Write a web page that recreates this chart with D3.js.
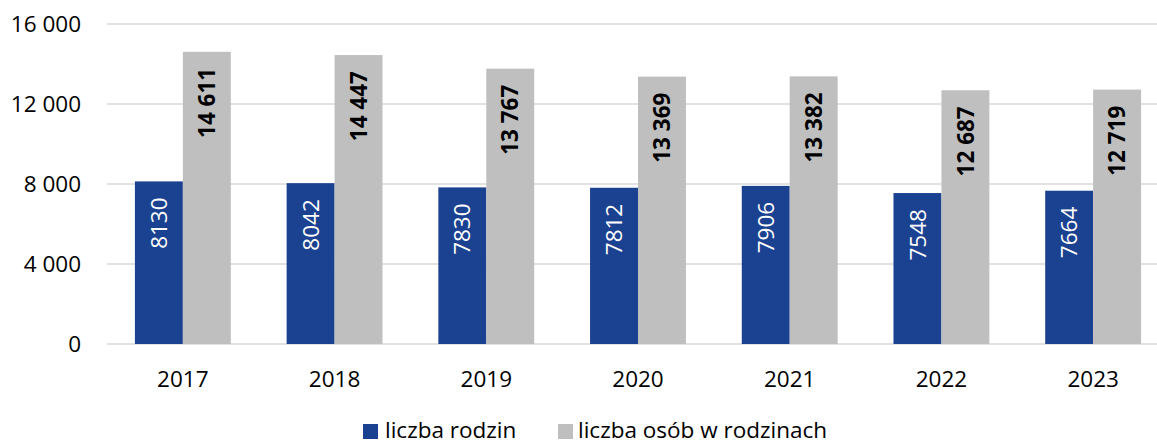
<!DOCTYPE html>
<html lang="pl">
<head>
<meta charset="UTF-8">
<title>Rodziny</title>
<script src="https://cdn.jsdelivr.net/npm/d3@7"></script>
<style>
  html, body { margin: 0; padding: 0; background: #fff; overflow: hidden; }
  svg { display: block; font-family: "Open Sans", sans-serif; }
</style>
</head>
<body>
<div id="chart"></div>
<script>
// dane z wykresu
var years = ['2017', '2018', '2019', '2020', '2021', '2022', '2023'];
var rodziny = [8130, 8042, 7830, 7812, 7906, 7548, 7664];
var osoby = [14611, 14447, 13767, 13369, 13382, 12687, 12719];
var yTicks = [0, 4000, 8000, 12000, 16000];
var seriesNames = ['liczba rodzin', 'liczba osób w rodzinach'];

var width = 1157, height = 444;
var blue = '#1b4191', gray = '#bfbfbf', grid = '#d9d9d9';

var svg = d3.select('#chart').append('svg')
    .attr('width', width).attr('height', height);

// obszar wykresu wychodzi lekko poza prawa krawedz, jak w oryginale
var x = d3.scaleBand().domain(years).range([107, 1169]).padding(0);
var y = d3.scaleLinear().domain([0, 16000]).range([344, 24]);
var barW = x.bandwidth() * 0.316;

var fmt = function (v) {
    return d3.format(',')(v).replace(/,/g, ' ');
};

// siatka
svg.append('g').selectAll('line').data(yTicks).enter().append('line')
    .attr('x1', 107).attr('x2', width)
    .attr('y1', function (d) { return y(d); })
    .attr('y2', function (d) { return y(d); })
    .attr('stroke', grid).attr('stroke-width', 1.5);

// etykiety osi Y
svg.append('g').selectAll('text').data(yTicks).enter().append('text')
    .attr('x', 81).attr('y', function (d) { return y(d); })
    .attr('dy', '0.36em')
    .attr('text-anchor', 'end')
    .attr('font-size', '22.5px').attr('fill', '#000')
    .text(function (d) { return d === 0 ? '0' : fmt(d); });

// slupki
var groups = svg.append('g').selectAll('g').data(years).enter().append('g')
    .attr('transform', function (d) { return 'translate(' + (x(d) + x.bandwidth() / 2) + ',0)'; });

groups.append('rect')
    .attr('x', -barW).attr('width', barW)
    .attr('y', function (d, i) { return y(rodziny[i]); })
    .attr('height', function (d, i) { return y(0) - y(rodziny[i]); })
    .attr('fill', blue);

groups.append('rect')
    .attr('x', 0).attr('width', barW)
    .attr('y', function (d, i) { return y(osoby[i]); })
    .attr('height', function (d, i) { return y(0) - y(osoby[i]); })
    .attr('fill', gray);

// etykiety wartosci (obrocone)
groups.append('text')
    .attr('transform', function (d, i) {
        return 'translate(' + (-barW / 2) + ',' + (y(rodziny[i]) + 16) + ') rotate(-90)';
    })
    .attr('dy', '0.36em')
    .attr('text-anchor', 'end')
    .attr('font-size', '22.5px').attr('fill', '#fff')
    .text(function (d, i) { return rodziny[i]; });

groups.append('text')
    .attr('transform', function (d, i) {
        return 'translate(' + (barW / 2) + ',' + (y(osoby[i]) + 16) + ') rotate(-90)';
    })
    .attr('dy', '0.36em')
    .attr('text-anchor', 'end')
    .attr('font-size', '22.5px').attr('font-weight', 'bold').attr('fill', '#000')
    .text(function (d, i) { return fmt(osoby[i]); });

// etykiety lat
groups.append('text')
    .attr('y', 387)
    .attr('text-anchor', 'middle')
    .attr('font-size', '22.5px').attr('fill', '#000')
    .text(function (d) { return d; });

// legenda
var legend = [
    { name: seriesNames[0], color: blue, x: 363, tx: 385 },
    { name: seriesNames[1], color: gray, x: 558, tx: 578 }
];
var lg = svg.append('g').selectAll('g').data(legend).enter().append('g');
lg.append('rect')
    .attr('x', function (d) { return d.x; }).attr('y', 424)
    .attr('width', 15).attr('height', 15)
    .attr('fill', function (d) { return d.color; });
lg.append('text')
    .attr('x', function (d) { return d.tx; }).attr('y', 438)
    .attr('font-size', '22.5px').attr('fill', '#000')
    .text(function (d) { return d.name; });
</script>
</body>
</html>
